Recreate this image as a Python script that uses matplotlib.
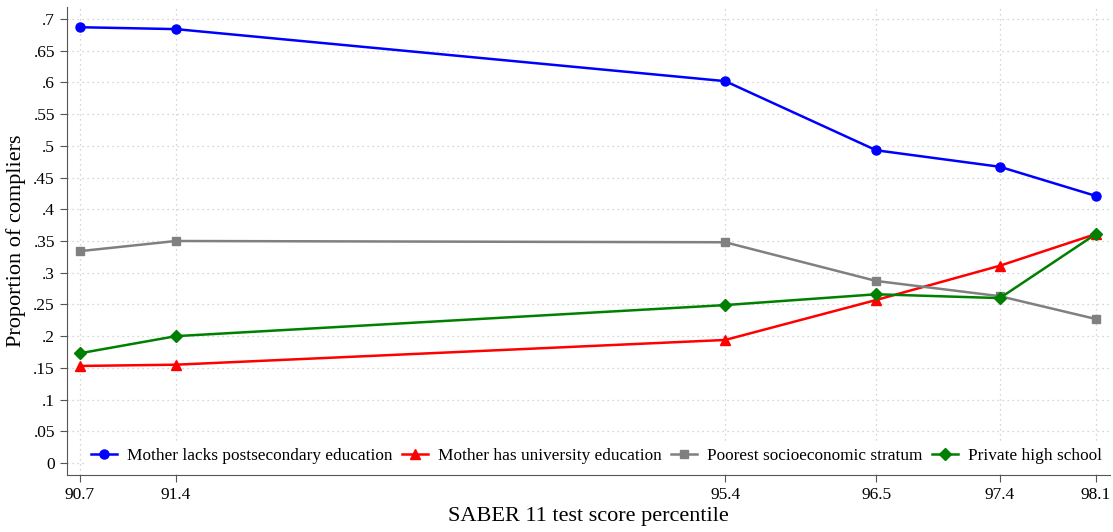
import numpy as np
import matplotlib
matplotlib.use("Agg")
import matplotlib.pyplot as plt

# percentile cutoffs (x) and complier shares by group
percentiles = [90.7, 91.4, 95.4, 96.5, 97.4, 98.1]
mother_lacks_post = [0.687, 0.684, 0.602, 0.493, 0.467, 0.421]
mother_univ = [0.153, 0.155, 0.194, 0.257, 0.311, 0.361]
poorest_stratum = [0.334, 0.350, 0.348, 0.287, 0.263, 0.227]
private_hs = [0.173, 0.200, 0.249, 0.266, 0.260, 0.361]

y_ticks = np.arange(0, 0.701, 0.05)
y_labels = ["0"] + [("%.2f" % v).lstrip("0").rstrip("0") for v in y_ticks[1:]]

plt.rcParams["font.family"] = ["Liberation Serif", "DejaVu Serif"]

fig = plt.figure(figsize=(11.13, 5.32), dpi=100)
ax = fig.add_axes([0.060, 0.107, 0.937, 0.880])

ax.plot(percentiles, mother_lacks_post, color="blue", marker="o", markersize=6.5,
        linewidth=1.8, label="Mother lacks postsecondary education")
ax.plot(percentiles, mother_univ, color="red", marker="^", markersize=6.5,
        linewidth=1.8, label="Mother has university education")
ax.plot(percentiles, poorest_stratum, color="gray", marker="s", markersize=6,
        linewidth=1.8, label="Poorest socioeconomic stratum")
ax.plot(percentiles, private_hs, color="green", marker="D", markersize=6,
        linewidth=1.8, label="Private high school")

ax.set_xlim(90.605, 98.2)
ax.set_ylim(-0.019, 0.719)
ax.set_xticks(percentiles)
ax.set_xticklabels(["%.1f" % p for p in percentiles], fontsize=12.5)
ax.set_yticks(y_ticks)
ax.set_yticklabels(y_labels, fontsize=12.5)

ax.grid(True, linestyle=(0, (1, 3)), color="#c8c8c8", linewidth=0.9)
ax.set_axisbelow(True)
for s in ["top", "right"]:
    ax.spines[s].set_visible(False)
for s in ["left", "bottom"]:
    ax.spines[s].set_color("#555555")
    ax.spines[s].set_zorder(10)
ax.tick_params(direction="out", length=5, color="#555555")

ax.set_xlabel("SABER 11 test score percentile", fontsize=16, labelpad=3)
ax.set_ylabel("Proportion of compliers", fontsize=16, labelpad=5)

leg = ax.legend(loc="lower center", ncol=4, fontsize=12.4, frameon=True,
                fancybox=False, edgecolor="none", framealpha=1.0,
                handlelength=1.5, columnspacing=0.55, handletextpad=0.6,
                borderaxespad=0.25, bbox_to_anchor=(0.508, 0.0))
leg.set_zorder(5)

fig.savefig("out.png", dpi=100)
